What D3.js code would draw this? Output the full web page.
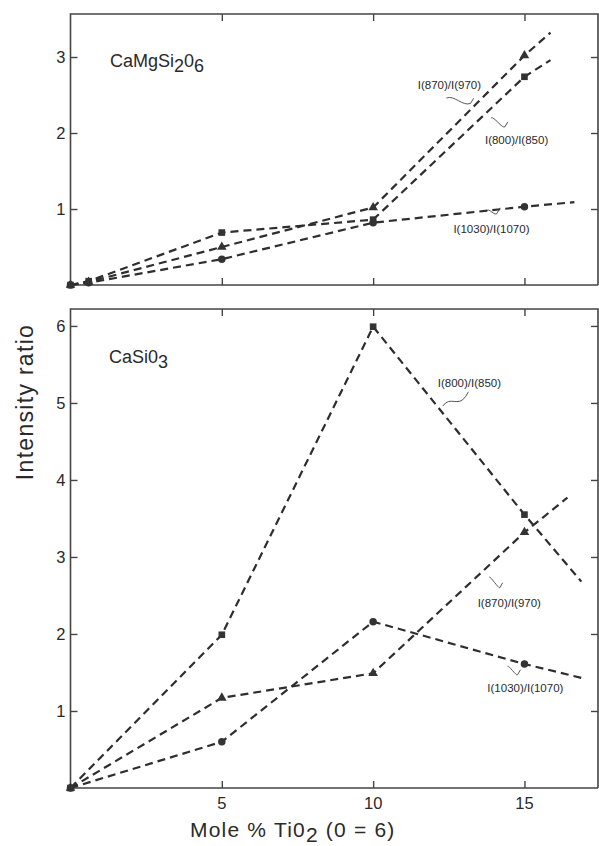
<!DOCTYPE html>
<html>
<head>
<meta charset="utf-8">
<script src="https://cdn.jsdelivr.net/npm/d3@7"></script>
<style>
  html, body { margin: 0; padding: 0; background: #fff; }
  svg { display: block; }
  text { font-family: "Liberation Sans", Arial, Helvetica, sans-serif; fill: #2a2a2a; }
</style>
</head>
<body>
<svg id="chart" width="599" height="846"></svg>
<script>
// Mole % TiO2 composition values
const xTop = [0, 0.6, 5, 10, 15];
const xBottom = [0, 5, 10, 15];

// CaMgSi2O6 intensity ratios
const diopside800 = [0, 0.05, 0.69, 0.86, 2.74];
const diopside870 = [0, 0.04, 0.50, 1.02, 3.02];
const diopside1030 = [0, 0.03, 0.34, 0.82, 1.03];
// extrapolated trend end points [x, y]
const diopsideEnds = [[15.86, 2.96], [15.86, 3.32], [16.65, 1.09]];

// CaSiO3 intensity ratios
const wollastonite800 = [0, 1.99, 5.99, 3.55];
const wollastonite870 = [0, 1.17, 1.49, 3.32];
const wollastonite1030 = [0, 0.60, 2.16, 1.61];
const wollastoniteEnds = [[16.88, 2.68], [16.42, 3.77], [16.88, 1.43]];

const xTicks = [5, 10, 15];
const topYTicks = [1, 2, 3];
const bottomYTicks = [1, 2, 3, 4, 5, 6];
const seriesNames = ["I(800)/I(850)", "I(870)/I(970)", "I(1030)/I(1070)"];
const markerShapes = [d3.symbolSquare, d3.symbolTriangle, d3.symbolCircle];

// label anchors in data units: [x, y, squiggle x1, y1, x2, y2]
const topLabels = [
  [14.74, 1.86, 13.9, 2.2, 14.35, 2.08],
  [12.52, 2.58, 12.42, 2.46, 13.22, 2.39],
  [13.91, 0.68, 13.75, 0.97, 14.1, 0.95]
];
const bottomLabels = [
  [13.18, 5.21, 12.3, 4.96, 13.05, 5.08],
  [14.5, 2.35, 13.84, 2.74, 14.18, 2.6],
  [15.03, 1.25, 14.44, 1.58, 14.77, 1.47]
];

const svg = d3.select("#chart");
const left = 70.5, right = 598;
const x = d3.scaleLinear().domain([0, 17.43]).range([left, right]);

const ink = "#2e2e2e";
const dash = "8,5";

// text with subscript parts: [string, isSubscript]
function richText(t, parts, shift) {
  let sub = false;
  parts.forEach(([s, isSub]) => {
    const dy = isSub === sub ? 0 : (isSub ? shift : -shift);
    t.append("tspan").attr("dy", dy).text(s);
    sub = isSub;
  });
}

function panel(cfg) {
  const y = d3.scaleLinear().domain(cfg.yDomain).range([cfg.bottom, cfg.top]);
  const g = svg.append("g");

  // frame
  g.append("path")
    .attr("d", `M${left},${cfg.bottom}H${right}M${left},${cfg.bottom}V${cfg.top}H${right}V${cfg.bottom}`)
    .attr("fill", "none").attr("stroke", "#444").attr("stroke-width", 1.6);

  // axes with inward ticks
  const tickLen = 7;
  g.append("g").attr("transform", `translate(0,${cfg.bottom})`)
    .call(d3.axisTop(x).tickValues(xTicks).tickSize(tickLen).tickFormat(""))
    .call(a => a.select(".domain").remove());
  g.append("g").attr("transform", `translate(0,${cfg.top})`)
    .call(d3.axisBottom(x).tickValues(xTicks).tickSize(tickLen).tickFormat(""))
    .call(a => a.select(".domain").remove());
  g.append("g").attr("transform", `translate(${left},0)`)
    .call(d3.axisRight(y).tickValues(cfg.yTicks).tickSize(tickLen).tickFormat(""))
    .call(a => a.select(".domain").remove());
  g.append("g").attr("transform", `translate(${right},0)`)
    .call(d3.axisLeft(y).tickValues(cfg.yTicks).tickSize(tickLen).tickFormat(""))
    .call(a => a.select(".domain").remove());
  g.selectAll(".tick line").attr("stroke", "#444").attr("stroke-width", 1.4);

  // y tick labels
  g.selectAll("text.ylab").data(cfg.yTicks).join("text")
    .attr("class", "ylab")
    .attr("x", left - 5).attr("y", d => y(d) + 6)
    .attr("text-anchor", "end").attr("font-size", 16.5)
    .text(d => d);

  // dashed series lines
  const line = d3.line().x(d => x(d[0])).y(d => y(d[1]));
  cfg.series.forEach((vals, i) => {
    const pts = cfg.xs.map((xv, k) => [xv, vals[k]]);
    pts.push(cfg.ends[i]);
    g.append("path").datum(pts)
      .attr("d", line)
      .attr("fill", "none").attr("stroke", ink)
      .attr("stroke-width", 2.2).attr("stroke-dasharray", dash);
  });

  // markers
  cfg.series.forEach((vals, i) => {
    const sym = d3.symbol().type(markerShapes[i]).size(i === 1 ? 40 : 44);
    g.selectAll(null).data(cfg.xs.map((xv, k) => [xv, vals[k]])).join("path")
      .attr("transform", d => `translate(${x(d[0])},${y(d[1])})`)
      .attr("d", sym).attr("fill", "#333");
  });

  // series labels with wavy leaders
  cfg.labels.forEach((l, i) => {
    g.append("text")
      .attr("x", x(l[0])).attr("y", y(l[1]))
      .attr("text-anchor", "middle").attr("font-size", 11.5)
      .text(seriesNames[i]);
    const x1 = x(l[2]), y1 = y(l[3]), x2 = x(l[4]), y2 = y(l[5]);
    const mx = (x1 + x2) / 2, my = (y1 + y2) / 2;
    g.append("path")
      .attr("d", `M${x1},${y1} C${mx - 4},${my - 6} ${mx + 4},${my + 6} ${x2},${y2} l3,-5`)
      .attr("fill", "none").attr("stroke", "#444").attr("stroke-width", 0.9);
  });

  // compound name
  const t = g.append("text").attr("x", cfg.titleX).attr("y", cfg.titleY).attr("font-size", 18);
  richText(t, cfg.title, 5);
}

panel({
  top: 14, bottom: 285, yDomain: [0, 3.566], yTicks: topYTicks,
  xs: xTop, series: [diopside800, diopside870, diopside1030], ends: diopsideEnds,
  labels: topLabels,
  title: [["CaMgSi", false], ["2", true], ["0", false], ["6", true]], titleX: 110, titleY: 67
});

panel({
  top: 309, bottom: 788, yDomain: [0, 6.22], yTicks: bottomYTicks,
  xs: xBottom, series: [wollastonite800, wollastonite870, wollastonite1030], ends: wollastoniteEnds,
  labels: bottomLabels,
  title: [["CaSi0", false], ["3", true]], titleX: 109, titleY: 363
});

// x tick labels
svg.selectAll("text.xlab").data(xTicks).join("text")
  .attr("class", "xlab")
  .attr("x", d => x(d)).attr("y", 809)
  .attr("text-anchor", "middle").attr("font-size", 16.5)
  .text(d => d);

// axis titles
const xt = svg.append("text").attr("x", 190).attr("y", 837)
  .attr("font-size", 21).attr("letter-spacing", 1.2);
richText(xt, [["Mole % Ti0", false], ["2", true], [" (0 = 6)", false]], 5);

svg.append("text")
  .attr("transform", "translate(33,402) rotate(-90)")
  .attr("text-anchor", "middle").attr("font-size", 23).attr("letter-spacing", 1.3)
  .text("Intensity ratio");
</script>
</body>
</html>
